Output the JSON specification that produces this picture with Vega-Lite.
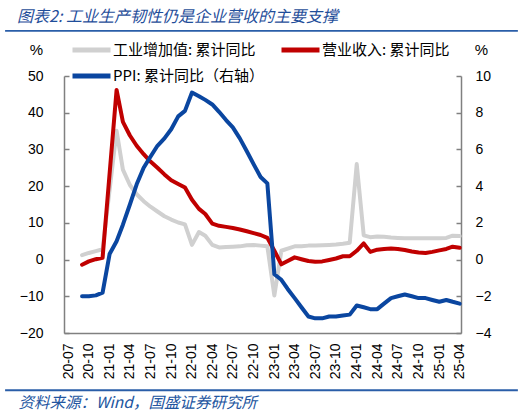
{
  "$schema": "https://vega.github.io/schema/vega-lite/v6.json",
  "autosize": {"type": "none"},
  "padding": {"left": 64, "top": 76, "right": 65, "bottom": 82},
  "width": 397,
  "height": 257,
  "background": "white",
  "config": {"view": {"stroke": null}, "font": "Liberation Sans"},
  "title": {
    "text": "图表2:  工业生产韧性仍是企业营收的主要支撑",
    "anchor": "start",
    "frame": "group",
    "dx": -47,
    "offset": -6,
    "baseline": "middle",
    "font": "Noto Sans CJK SC",
    "fontSize": 16,
    "fontWeight": "normal",
    "fontStyle": "italic",
    "color": "#1F4E9A"
  },
  "datasets": {
    "deco": [
      {"k": "title", "xd": "2019-09-26", "yv": 62.3},
      {"k": "title", "xd": "2025-12-15", "yv": 62.3},
      {"k": "footer", "xd": "2019-09-26", "yv": -35.6},
      {"k": "footer", "xd": "2025-12-15", "yv": -35.6}
    ]
  },
  "data": {
    "values": [
      {"d": "2020-09-01", "ip": 1.2, "rev": -1.4, "ppi": -2.0},
      {"d": "2020-10-01", "ip": 1.8, "rev": -0.5, "ppi": -2.0},
      {"d": "2020-11-01", "ip": 2.3, "rev": 0.1, "ppi": -1.95},
      {"d": "2020-12-01", "ip": 2.8, "rev": 0.5, "ppi": -1.8},
      {"d": "2021-01-01", "ip": null, "rev": null, "ppi": 0.3},
      {"d": "2021-02-01", "ip": 35.1, "rev": 46.2, "ppi": 1.0},
      {"d": "2021-03-01", "ip": 24.5, "rev": 37.5, "ppi": 1.9},
      {"d": "2021-04-01", "ip": 20.3, "rev": 33.8, "ppi": 3.0},
      {"d": "2021-05-01", "ip": 17.8, "rev": 31.0, "ppi": 4.1},
      {"d": "2021-06-01", "ip": 15.9, "rev": 28.7, "ppi": 5.0},
      {"d": "2021-07-01", "ip": 14.4, "rev": 26.7, "ppi": 5.6},
      {"d": "2021-08-01", "ip": 13.1, "rev": 25.0, "ppi": 6.2},
      {"d": "2021-09-01", "ip": 11.8, "rev": 23.2, "ppi": 6.6},
      {"d": "2021-10-01", "ip": 10.9, "rev": 21.6, "ppi": 7.1},
      {"d": "2021-11-01", "ip": 10.1, "rev": 20.6, "ppi": 7.8},
      {"d": "2021-12-01", "ip": 9.6, "rev": 19.6, "ppi": 8.1},
      {"d": "2022-01-01", "ip": 4.0, "rev": 16.3, "ppi": 9.1},
      {"d": "2022-02-01", "ip": 7.5, "rev": 13.8, "ppi": 8.9},
      {"d": "2022-03-01", "ip": 6.5, "rev": 12.4, "ppi": 8.7},
      {"d": "2022-04-01", "ip": 4.0, "rev": 9.8, "ppi": 8.45},
      {"d": "2022-05-01", "ip": 3.3, "rev": 9.2, "ppi": 8.05},
      {"d": "2022-06-01", "ip": 3.4, "rev": 8.9, "ppi": 7.6},
      {"d": "2022-07-01", "ip": 3.5, "rev": 8.6, "ppi": 7.2},
      {"d": "2022-08-01", "ip": 3.6, "rev": 8.2, "ppi": 6.6},
      {"d": "2022-09-01", "ip": 3.9, "rev": 7.7, "ppi": 5.9},
      {"d": "2022-10-01", "ip": 4.0, "rev": 7.2, "ppi": 5.2},
      {"d": "2022-11-01", "ip": 3.8, "rev": 6.7, "ppi": 4.5},
      {"d": "2022-12-01", "ip": 3.6, "rev": 5.9, "ppi": 4.15},
      {"d": "2023-01-01", "ip": -9.8, "rev": 2.4, "ppi": -0.8},
      {"d": "2023-02-01", "ip": 2.4, "rev": -1.3, "ppi": -1.1},
      {"d": "2023-03-01", "ip": 3.0, "rev": -0.4, "ppi": -1.6},
      {"d": "2023-04-01", "ip": 3.6, "rev": 0.6, "ppi": -2.1},
      {"d": "2023-05-01", "ip": 3.6, "rev": 0.1, "ppi": -2.6},
      {"d": "2023-06-01", "ip": 3.8, "rev": -0.4, "ppi": -3.1},
      {"d": "2023-07-01", "ip": 3.8, "rev": -0.6, "ppi": -3.2},
      {"d": "2023-08-01", "ip": 3.9, "rev": -0.5, "ppi": -3.2},
      {"d": "2023-09-01", "ip": 4.0, "rev": -0.1, "ppi": -3.1},
      {"d": "2023-10-01", "ip": 4.1, "rev": 0.3, "ppi": -3.1},
      {"d": "2023-11-01", "ip": 4.3, "rev": 0.9, "ppi": -3.05},
      {"d": "2023-12-01", "ip": 4.6, "rev": 0.9, "ppi": -3.0},
      {"d": "2024-01-01", "ip": 26.0, "rev": 2.4, "ppi": -2.5},
      {"d": "2024-02-01", "ip": 6.6, "rev": 4.4, "ppi": -2.6},
      {"d": "2024-03-01", "ip": 6.1, "rev": 2.1, "ppi": -2.7},
      {"d": "2024-04-01", "ip": 6.3, "rev": 2.7, "ppi": -2.7},
      {"d": "2024-05-01", "ip": 6.2, "rev": 2.9, "ppi": -2.4},
      {"d": "2024-06-01", "ip": 6.0, "rev": 3.0, "ppi": -2.1},
      {"d": "2024-07-01", "ip": 5.9, "rev": 2.9, "ppi": -2.0},
      {"d": "2024-08-01", "ip": 5.8, "rev": 2.6, "ppi": -1.9},
      {"d": "2024-09-01", "ip": 5.8, "rev": 2.2, "ppi": -2.0},
      {"d": "2024-10-01", "ip": 5.8, "rev": 1.9, "ppi": -2.1},
      {"d": "2024-11-01", "ip": 5.8, "rev": 1.8, "ppi": -2.1},
      {"d": "2024-12-01", "ip": 5.8, "rev": 2.1, "ppi": -2.2},
      {"d": "2025-01-01", "ip": 5.8, "rev": 2.5, "ppi": -2.3},
      {"d": "2025-02-01", "ip": 5.9, "rev": 2.9, "ppi": -2.2},
      {"d": "2025-03-01", "ip": 6.5, "rev": 3.5, "ppi": -2.3},
      {"d": "2025-04-01", "ip": 6.4, "rev": 3.2, "ppi": -2.4}
    ]
  },
  "encoding": {
    "x": {
      "field": "d",
      "type": "temporal",
      "scale": {
        "type": "utc",
        "domain": [
          {"year": 2020, "month": 6, "date": 13, "utc": true},
          {"year": 2025, "month": 4, "date": 7, "utc": true}
        ]
      },
      "axis": {
        "values": [
          {"year": 2020, "month": 7, "date": 1, "utc": true},
          {"year": 2020, "month": 10, "date": 1, "utc": true},
          {"year": 2021, "month": 1, "date": 1, "utc": true},
          {"year": 2021, "month": 4, "date": 1, "utc": true},
          {"year": 2021, "month": 7, "date": 1, "utc": true},
          {"year": 2021, "month": 10, "date": 1, "utc": true},
          {"year": 2022, "month": 1, "date": 1, "utc": true},
          {"year": 2022, "month": 4, "date": 1, "utc": true},
          {"year": 2022, "month": 7, "date": 1, "utc": true},
          {"year": 2022, "month": 10, "date": 1, "utc": true},
          {"year": 2023, "month": 1, "date": 1, "utc": true},
          {"year": 2023, "month": 4, "date": 1, "utc": true},
          {"year": 2023, "month": 7, "date": 1, "utc": true},
          {"year": 2023, "month": 10, "date": 1, "utc": true},
          {"year": 2024, "month": 1, "date": 1, "utc": true},
          {"year": 2024, "month": 4, "date": 1, "utc": true},
          {"year": 2024, "month": 7, "date": 1, "utc": true},
          {"year": 2024, "month": 10, "date": 1, "utc": true},
          {"year": 2025, "month": 1, "date": 1, "utc": true},
          {"year": 2025, "month": 4, "date": 1, "utc": true}
        ],
        "format": "%y-%m",
        "labelAngle": -90,
        "labelFontSize": 14,
        "labelColor": "#000000",
        "labelPadding": 10,
        "ticks": false,
        "grid": false,
        "domainColor": "#808080",
        "domainWidth": 1.5,
        "labelOverlap": false,
        "title": "资料来源：Wind，国盛证券研究所",
        "titleX": -46,
        "titleY": 69,
        "titleAlign": "left",
        "titleAnchor": null,
        "titleBaseline": "middle",
        "titleFont": "Noto Sans CJK SC",
        "titleFontSize": 15.5,
        "titleFontWeight": "normal",
        "titleFontStyle": "italic",
        "titleColor": "#2255A0"
      }
    }
  },
  "layer": [
    {
      "data": {"name": "deco"},
      "mark": {"type": "line", "color": "#2A5EA8", "strokeWidth": 1.8, "clip": false},
      "encoding": {
        "x": {"field": "xd", "type": "temporal"},
        "y": {"field": "yv", "type": "quantitative", "scale": {"domain": [-20, 50], "nice": false, "zero": false}, "axis": null},
        "detail": {"field": "k", "type": "nominal"}
      }
    },
    {
      "transform": [{"fold": ["ip", "rev"], "as": ["s", "v"]}],
      "mark": {"type": "line", "strokeWidth": 4, "strokeCap": "round", "strokeJoin": "round", "invalid": "filter"},
      "encoding": {
        "color": {
          "field": "s",
          "type": "nominal",
          "scale": {"domain": ["ip", "rev", "ppi"], "range": ["#D0D0D0", "#C00000", "#0A46A0"]},
          "legend": {
            "orient": "none",
            "legendX": 15.5,
            "legendY": -38,
            "direction": "horizontal",
            "columns": 2,
            "title": null,
            "symbolType": "M-2,0H2",
            "symbolSize": 361,
            "symbolStrokeWidth": 5,
            "labelOffset": 9.5,
            "labelFont": "Noto Sans CJK SC",
            "labelFontSize": 15,
            "labelColor": "#000000",
            "columnPadding": 7,
            "rowPadding": 4,
            "labelLimit": 300,
            "labelExpr": "datum.value == 'ip' ? '工业增加值: 累计同比' : datum.value == 'rev' ? '营业收入: 累计同比' : 'PPI: 累计同比（右轴）'"
          }
        },
        "y": {
          "field": "v",
          "type": "quantitative",
          "scale": {"domain": [-20, 50], "nice": false, "zero": false},
          "axis": {
            "values": [-20, -10, 0, 10, 20, 30, 40, 50],
            "labelOverlap": false,
            "grid": false,
            "tickSize": -5,
            "tickColor": "#808080",
            "tickWidth": 1.5,
            "domainColor": "#808080",
            "domainWidth": 1.5,
            "labelFontSize": 14,
            "labelColor": "#000000",
            "labelPadding": 26,
            "title": "%",
            "titleAngle": 0,
            "titleX": -28,
            "titleY": -27,
            "titleAlign": "center",
            "titleBaseline": "middle",
            "titleFontSize": 15,
            "titleFontWeight": "normal",
            "titleColor": "#000000"
          }
        }
      }
    },
    {
      "transform": [{"fold": ["ppi"], "as": ["s", "v"]}],
      "mark": {"type": "line", "strokeWidth": 4, "strokeCap": "round", "strokeJoin": "round", "invalid": "filter"},
      "encoding": {
        "color": {"field": "s", "type": "nominal"},
        "y": {
          "field": "v",
          "type": "quantitative",
          "scale": {"domain": [-4, 10], "nice": false, "zero": false},
          "axis": {
            "orient": "right",
            "values": [-4, -2, 0, 2, 4, 6, 8, 10],
            "labelOverlap": false,
            "grid": false,
            "tickSize": -5,
            "tickColor": "#808080",
            "tickWidth": 1.5,
            "domainColor": "#808080",
            "domainWidth": 1.5,
            "labelFontSize": 14,
            "labelColor": "#000000",
            "labelPadding": 19,
            "title": "%",
            "titleAngle": 0,
            "titleX": 20,
            "titleY": -27,
            "titleAlign": "center",
            "titleBaseline": "middle",
            "titleFontSize": 15,
            "titleFontWeight": "normal",
            "titleColor": "#000000"
          }
        }
      }
    }
  ],
  "resolve": {"scale": {"y": "independent"}, "axis": {"y": "independent"}}
}
